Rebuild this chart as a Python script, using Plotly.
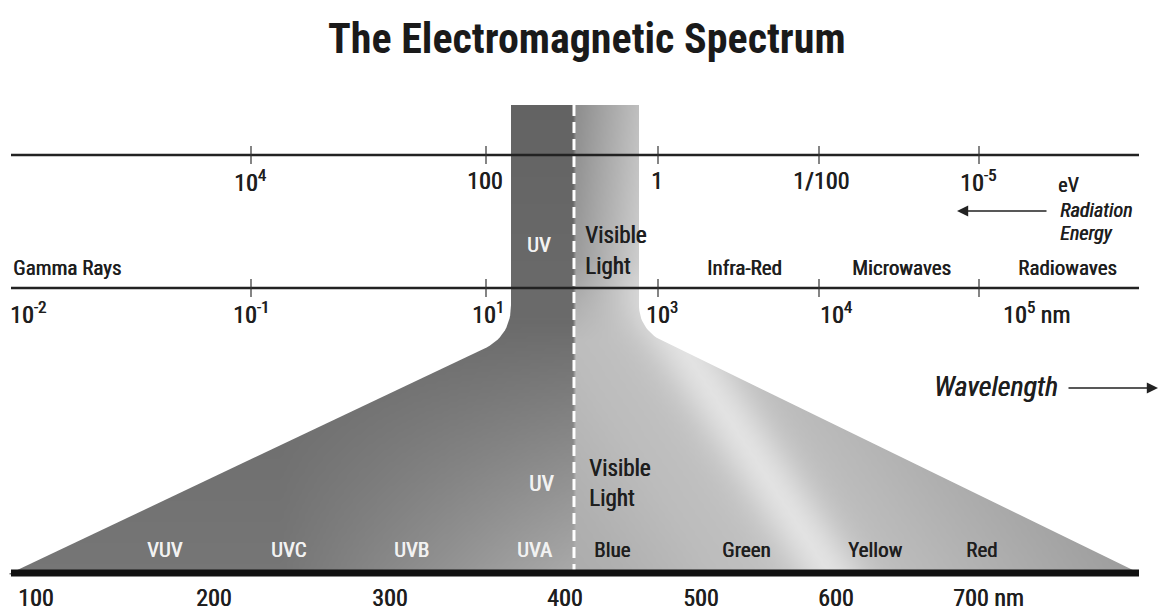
import numpy as np
import plotly.graph_objects as go

# ---------------- text content ----------------
title_text = "The Electromagnetic Spectrum"
energy_tick_labels = ["10<sup>4</sup>", "100", "1", "1/100", "10<sup>-5</sup>"]
wavelength_tick_labels = ["10<sup>-2</sup>", "10<sup>-1</sup>", "10<sup>1</sup>", "10<sup>3</sup>",
                          "10<sup>4</sup>", "10<sup>5</sup> nm"]
region_names = ["Gamma Rays", "Infra-Red", "Microwaves", "Radiowaves"]
uv_bands = ["VUV", "UVC", "UVB", "UVA"]
visible_bands = ["Blue", "Green", "Yellow", "Red"]
nm_labels = ["100", "200", "300", "400", "500", "600", "700 nm"]

# ---------------- layout geometry (pixels) ----------------
W, H = 1162, 612
X0, X1 = 11, 1139
Y_ENERGY, Y_WAVE, Y_BAR = 155, 288, 573
tick_x = [251, 486, 658, 819, 979]
energy_label_x = [250, 485, 657, 821, 978]
wave_label_x = [28, 251, 488, 662, 836, 1036]
region_x = [11, 744, 901, 1067]
uv_band_x = [165, 288, 411, 534]
vis_band_x = [612, 746, 875, 981]
nm_x = [36, 214, 390, 565, 701, 836, 951]
COL_L, COL_M, COL_R, COL_TOP = 511, 574, 639, 105
FONT = "Roboto Condensed, Liberation Sans Narrow, sans-serif"
DARK = "#1e1e1e"
LIGHT = "#f2f2f2"


def bezier(p0, p1, p2, n=18):
    t = np.linspace(0, 1, n)
    x = (1 - t) ** 2 * p0[0] + 2 * (1 - t) * t * p1[0] + t ** 2 * p2[0]
    y = (1 - t) ** 2 * p0[1] + 2 * (1 - t) * t * p1[1] + t ** 2 * p2[1]
    return list(zip(x, y))


left_edge = [(COL_L, COL_TOP), (COL_L, 305)] + bezier((COL_L, 305), (COL_L, 336), (484, 348.8)) + [(X0, Y_BAR)]
right_edge = [(COL_R, COL_TOP), (COL_R, 305)] + bezier((COL_R, 305), (COL_R, 330), (665, 342.6)) + [(X1, Y_BAR)]

# ---------------- shading of the funnel ----------------
xs = np.arange(X0, X1 + 1, 3)
ys = np.arange(COL_TOP, Y_BAR + 1, 3)
XX, YY = np.meshgrid(xs, ys)
c01 = lambda a: np.clip(a, 0, 1)

v = c01((YY - 320) / 253)
uv_lower = 106 + 12 * v + 52 * c01((XX - 280) / 294) * v
uv_col = 99 + 8 * c01((YY - 105) / 225)
g_uv = np.where(YY < 320, uv_col, uv_lower)

s = XX - 0.65 * YY
vis_lower = np.interp(s, [150, 250, 340, 455, 560, 650, 800], [168, 176, 188, 196, 184, 172, 152]) \
    + 30 * np.exp(-((s - 458) / 36) ** 2)
vis_col = 142 + 50 * c01((XX - 576) / 63) + 18 * c01((YY - 105) / 200)
w = c01((YY - 260) / 80)
g_vis = (1 - w) * vis_col + w * vis_lower

Z = np.round(np.where(XX < COL_M, g_uv, g_vis)).astype(int)

fig = go.Figure()
fig.add_trace(go.Heatmap(x=xs, y=ys, z=Z, zmin=0, zmax=255, zsmooth="best",
                         colorscale=[[0, "rgb(0,0,0)"], [1, "rgb(255,255,255)"]],
                         showscale=False, hoverinfo="skip"))

# white masks outside the funnel outline
mask_left = [(0, 60)] + [(COL_L, 60)] + left_edge[1:] + [(0, Y_BAR)]
mask_right = [(COL_R, 60), (W, 60), (W, 585), (X1, 585)] + right_edge[::-1][:-1]
mask_top = [(0, 60), (W, 60), (W, COL_TOP), (0, COL_TOP)]
for poly in (mask_left, mask_right, mask_top):
    px, py = zip(*poly)
    fig.add_trace(go.Scatter(x=list(px) + [px[0]], y=list(py) + [py[0]], mode="lines",
                             fill="toself", fillcolor="white", line=dict(width=0),
                             hoverinfo="skip", showlegend=False))

shapes = []
shapes.append(dict(type="line", x0=COL_M, x1=COL_M, y0=COL_TOP, y1=Y_BAR - 3, layer="above",
                   line=dict(color="white", width=3, dash="11px,6px")))
for yl in (Y_ENERGY, Y_WAVE):
    shapes.append(dict(type="line", x0=X0, x1=X1, y0=yl, y1=yl, layer="above",
                       line=dict(color="#222222", width=2.5)))
    for tx in tick_x:
        shapes.append(dict(type="line", x0=tx, x1=tx, y0=yl - 9, y1=yl + 9, layer="above",
                           line=dict(color="#333333", width=1.2)))
shapes.append(dict(type="rect", x0=X0, x1=X1, y0=Y_BAR - 3.5, y1=Y_BAR + 3.5, layer="above",
                   fillcolor="#111111", line=dict(width=0)))

ann = []


def txt(x, y, t, size, color=DARK, xanchor="center", italic=False, weight=400):
    f = dict(family=FONT, size=size, color=color,
             style="italic" if italic else "normal", weight=weight)
    if weight < 700:
        f["shadow"] = "0.6px 0px 0px " + color
    ann.append(dict(x=x, y=y, text=t, showarrow=False, xanchor=xanchor, yanchor="middle", font=f))


txt(587, 38, title_text, 42, color="#1a1a1a", weight=700)
for x, t in zip(energy_label_x, energy_tick_labels):
    txt(x, 181, t, 24)
for x, t in zip(wave_label_x, wavelength_tick_labels):
    txt(x, 313, t, 24)
txt(region_x[0], 268, region_names[0], 21, xanchor="left")
for x, t in zip(region_x[1:], region_names[1:]):
    txt(x, 268, t, 21)
txt(539, 245, "UV", 21, color=LIGHT)
txt(583, 235, "Visible", 23, xanchor="left")
txt(583, 266, "Light", 23, xanchor="left")
txt(1068, 185, "eV", 20)
txt(1058, 210, "Radiation", 20, xanchor="left", italic=True)
txt(1058, 233, "Energy", 20, xanchor="left", italic=True)
txt(1060, 386, "Wavelength", 28, xanchor="right", italic=True)

txt(541, 483, "UV", 22, color=LIGHT)
txt(587, 468, "Visible", 23, xanchor="left")
txt(587, 498, "Light", 23, xanchor="left")
for x, t in zip(uv_band_x, uv_bands):
    txt(x, 550, t, 21, color=LIGHT)
for x, t in zip(vis_band_x, visible_bands):
    txt(x, 550, t, 21)
for i, (x, t) in enumerate(zip(nm_x, nm_labels)):
    txt(x, 598, t, 24, xanchor="left" if i == len(nm_labels) - 1 else "center")

ann.append(dict(x=957, y=211, ax=1048, ay=211, axref="x", ayref="y", xref="x", yref="y",
                text="", showarrow=True, arrowhead=2, arrowsize=1.4, arrowwidth=1.6,
                arrowcolor="#222222"))
ann.append(dict(x=1158, y=388, ax=1067, ay=388, axref="x", ayref="y", xref="x", yref="y",
                text="", showarrow=True, arrowhead=2, arrowsize=1.4, arrowwidth=1.6,
                arrowcolor="#222222"))

fig.update_layout(width=W, height=H, margin=dict(l=0, r=0, t=0, b=0),
                  paper_bgcolor="white", plot_bgcolor="white", showlegend=False,
                  xaxis=dict(range=[0, W], visible=False, fixedrange=True),
                  yaxis=dict(range=[H, 0], visible=False, fixedrange=True),
                  shapes=shapes, annotations=ann)

fig.write_html("out.html", config={"displayModeBar": False},
               post_script="document.body.style.margin='0';")
